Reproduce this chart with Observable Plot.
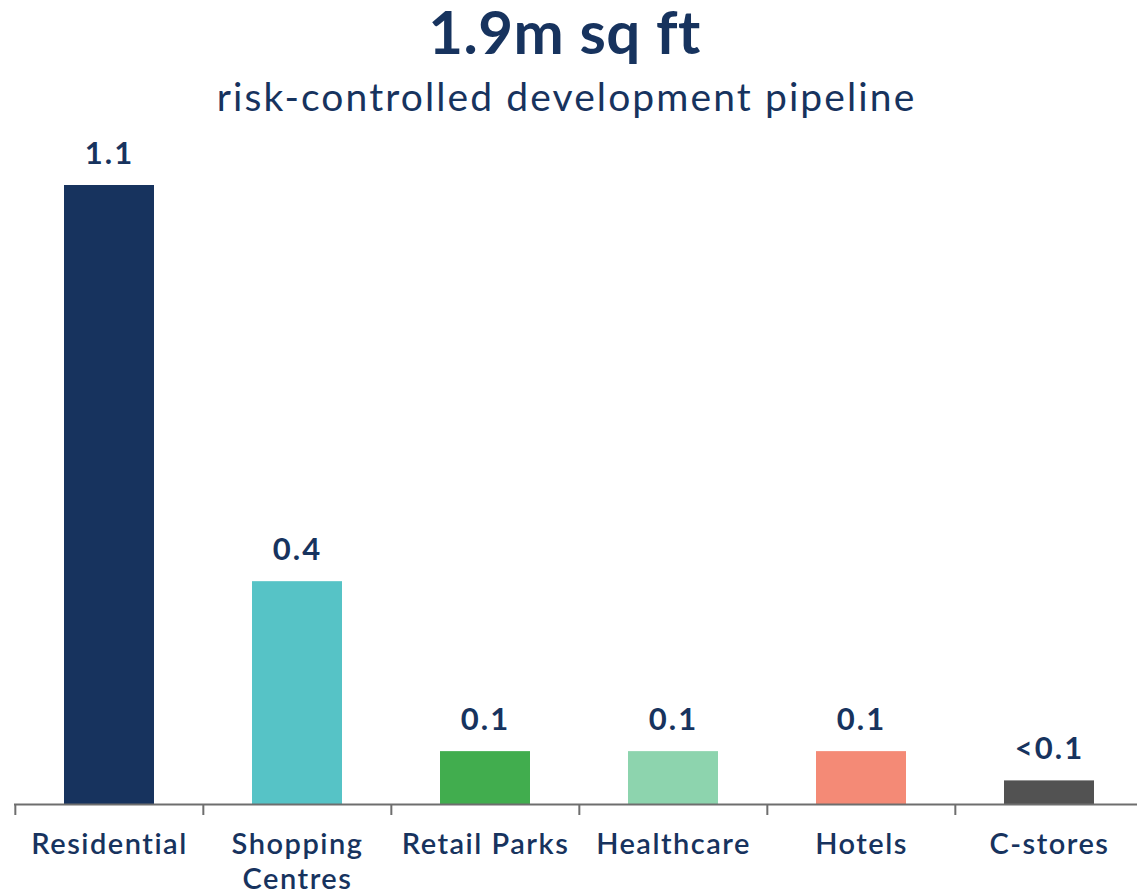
<!DOCTYPE html>
<html><head><meta charset="utf-8">
<script src="https://cdn.jsdelivr.net/npm/d3@7"></script>
<script src="https://cdn.jsdelivr.net/npm/@observablehq/plot@0.6"></script>
<style>
body{margin:0;background:#fff;font-family:Lato,sans-serif;color:#17335e;}
#wrap{position:relative;width:1137px;height:896px;overflow:hidden;}
#title{position:absolute;left:0;width:1129px;top:1px;text-align:center;font-size:60px;font-weight:700;line-height:60px;letter-spacing:0.5px;white-space:nowrap;}
#subtitle{position:absolute;left:0;width:1133px;top:75.5px;text-align:center;font-size:39px;font-weight:400;line-height:40px;letter-spacing:2.1px;white-space:nowrap;}
#chart{position:absolute;top:130px;left:0;}
#chart g[aria-label="x-axis tick label"] text{letter-spacing:1.5px;}
#chart g[aria-label="text"] text{letter-spacing:2px;}
</style>
</head><body>
<div id="wrap">
<div id="title">1.9m sq ft</div>
<div id="subtitle">risk-controlled development pipeline</div>
<div id="chart"></div>
</div>
<script>
const categories = ["Residential","Shopping Centres","Retail Parks","Healthcare","Hotels","C-stores"];
const tickLabels = ["Residential","Shopping\nCentres","Retail Parks","Healthcare","Hotels","C-stores"];
const values = [1.1, 0.396, 0.094, 0.094, 0.094, 0.042];
const valueLabels = ["1.1","0.4","0.1","0.1","0.1","<0.1"];
const colors = ["#17335e","#56c3c6","#41ad4e","#8dd4ae","#f48a76","#525252"];

const data = categories.map((c,i)=>({cat:c, value:values[i], label:valueLabels[i]}));
const W = 1137, H = 766;
const x0 = 14, x1 = 1144;
const step = (x1 - x0) / categories.length;

const chart = Plot.plot({
  width: W, height: H,
  marginTop: 55, marginBottom: 81, marginLeft: 14, marginRight: 0,
  style: {fontFamily: "Lato, sans-serif", color: "#17335e", background: "white"},
  x: {domain: categories, range: [x0, x1], paddingInner: 0.52, paddingOuter: 0.26, axis: null},
  y: {domain: [-0.0195, 1.1], axis: null},
  color: {domain: categories, range: colors},
  marks: [
    Plot.barY(data, {x: "cat", y1: 0, y2: "value", fill: "cat"}),
    Plot.ruleY([0], {stroke: "#6e6e6e", strokeWidth: 2}),
    Plot.ruleX(categories, {x: d => d, y1: 0, y2: -0.0195, dx: -step/2, stroke: "#6e6e6e", strokeWidth: 2}),
    Plot.text(data, {x: "cat", y: "value", text: "label", dy: -21.5, lineAnchor: "bottom", fontSize: 31, fontWeight: 700, fill: "#17335e"}),
    Plot.axisX({tickSize: 0, tickPadding: 13.5, fontSize: 29, fontWeight: 600, lineHeight: 1.207, label: null,
      tickFormat: d => tickLabels[categories.indexOf(d)]})
  ]
});
document.getElementById("chart").appendChild(chart);
</script>
</body></html>
